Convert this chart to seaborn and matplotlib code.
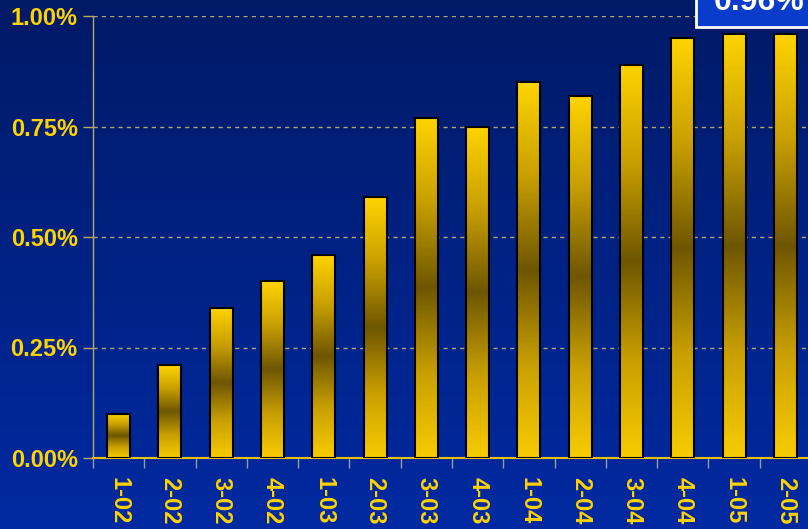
import numpy as np
import pandas as pd
import matplotlib
matplotlib.use("Agg")
import matplotlib.pyplot as plt
import seaborn as sns
from matplotlib.colors import LinearSegmentedColormap
from matplotlib.patches import Rectangle
from matplotlib.ticker import FuncFormatter

# ---- data ----
quarters = ["1-02", "2-02", "3-02", "4-02", "1-03", "2-03", "3-03",
            "4-03", "1-04", "2-04", "3-04", "4-04", "1-05", "2-05"]
rates = [0.10, 0.21, 0.34, 0.40, 0.46, 0.59, 0.77,
         0.75, 0.85, 0.82, 0.89, 0.95, 0.96, 0.96]
y_ticks = [0.0, 0.25, 0.50, 0.75, 1.00]
callout_text = "0.96%"

sns.set_theme(style="white")
plt.rcParams['font.family'] = ['Liberation Sans', 'DejaVu Sans']

W, H = 808, 529
fig = plt.figure(figsize=(W / 100, H / 100), dpi=100)

# background gradient
bg = fig.add_axes([0, 0, 1, 1], zorder=0)
grad = np.linspace(0, 1, 256).reshape(-1, 1)
bg_cmap = LinearSegmentedColormap.from_list('bg', ['#001a66', '#002aa2'])
bg.imshow(grad, aspect='auto', cmap=bg_cmap, extent=[0, 1, 0, 1], origin='upper')
bg.axis('off')

left, right, top, bottom = 93, 811, 16, 458
ax = fig.add_axes([left / W, (H - bottom) / H, (right - left) / W, (bottom - top) / H], zorder=1)
ax.patch.set_alpha(0)

df = pd.DataFrame({'quarter': quarters, 'rate': rates})
sns.barplot(data=df, x='quarter', y='rate', ax=ax, width=0.45,
            color='#ffd000', edgecolor='black', linewidth=1.5, zorder=3)

bar_cmap = LinearSegmentedColormap.from_list(
    'bar', ['#ffd400', '#c89f00', '#6e5600', '#c89f00', '#f8cc00'])
bar_grad = np.linspace(0, 1, 256).reshape(-1, 1)
for p in list(ax.patches):
    x0, w, h = p.get_x(), p.get_width(), p.get_height()
    p.set_facecolor('none')
    p.set_zorder(4)
    im = ax.imshow(bar_grad, extent=[x0, x0 + w, 0, h], aspect='auto',
                   cmap=bar_cmap, origin='upper', zorder=3)
    im.set_clip_path(p)

ax.set_xlim(-0.5, len(quarters) - 0.5)
ax.set_ylim(0, 1.0)
ax.set_xlabel('')
ax.set_ylabel('')

# y axis
ax.set_yticks(y_ticks)
ax.yaxis.set_major_formatter(FuncFormatter(lambda v, _: f"{v:.2f}%"))
ax.yaxis.grid(True, linestyle=(0, (3, 3)), color='#b4a46c', linewidth=1)
ax.set_axisbelow(True)
ax.tick_params(axis='y', length=7, width=1, color='#b8a868', labelcolor='#ffd200',
               labelsize=17, pad=4, left=True)
for lbl in ax.get_yticklabels():
    lbl.set_fontweight('bold')

# x axis
ax.set_xticks(range(len(quarters)))
ax.set_xticklabels(quarters, rotation=270, fontweight='bold', color='#ffd200',
                   fontsize=17, ha='center', va='top')
ax.tick_params(axis='x', which='major', length=0, pad=14)
ax.set_xticks(np.arange(-0.5, len(quarters), 1), minor=True)
ax.tick_params(axis='x', which='minor', length=7, width=1, color='#9a9aa8', bottom=True)

for s in ['top', 'right']:
    ax.spines[s].set_visible(False)
ax.spines['left'].set_color('#b8a868')
ax.spines['left'].set_linewidth(1)
ax.spines['bottom'].set_color('#e8c000')
ax.spines['bottom'].set_linewidth(1.5)

# callout box (cut off at top right, as in the original)
fig.add_artist(Rectangle((696 / W, (H - 27) / H), 0.2, 0.1, transform=fig.transFigure,
                         facecolor='#0a3ccc', edgecolor='white', linewidth=2, zorder=5))
fig.text(714 / W, (H - 10) / H, callout_text, color='white', fontsize=23,
         fontweight='bold', va='baseline', ha='left', zorder=6)

fig.savefig('out.png', dpi=100)
